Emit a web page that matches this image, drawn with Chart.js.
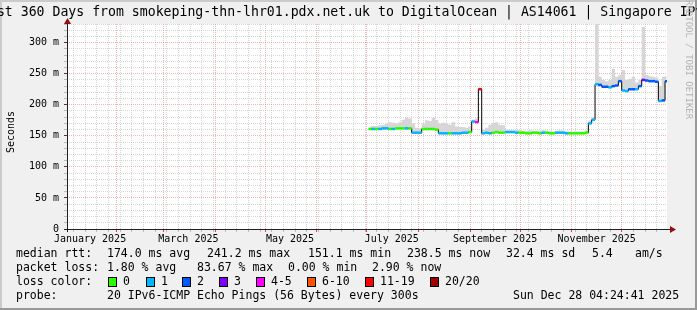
<!DOCTYPE html>
<html lang="en">
<head>
<meta charset="UTF-8">
<title>smokeping - last 360 days</title>
<script src="https://cdn.jsdelivr.net/npm/chart.js"></script>
<style>
  html, body { margin: 0; padding: 0; background: #f0f0f0; }
  canvas { display: block; }
</style>
</head>
<body>
<canvas id="smoke" width="697" height="310"></canvas>
<script>
// x values are days counted from 1 Jan 2025 (day 0)
const firstDay = 183;
const stepDays = 2;

// median rtt in ms, one value every two days
const median = [
  161, 161, 161, 161, 162, 162, 161, 161, 162, 162,
  162, 162, 162, 155, 155, 155, 161, 161, 161, 161,
  160, 154, 154, 154, 154, 154, 154, 154, 155, 155,
  156, 173, 172, 225, 154, 155, 154, 155, 156, 155,
  155, 156, 156, 156, 155, 155, 155, 154, 154, 155,
  155, 154, 155, 155, 154, 154, 155, 155, 155, 154,
  154, 154, 154, 154, 154, 155, 170, 176, 233, 232,
  229, 229, 228, 230, 231, 238, 223, 222, 225, 225,
  225, 230, 240, 239, 238, 238, 237, 206, 207, 238
];
// top of the smoke (slowest ping) in ms
const smokeMax = [
  165, 166, 166, 167, 168, 170, 172, 171, 170, 172,
  176, 179, 178, 170, 163, 162, 170, 175, 174, 179,
  176, 170, 171, 170, 168, 172, 165, 164, 164, 163,
  165, 176, 178, 228, 160, 163, 168, 171, 172, 168,
  167, 160, 159, 159, 160, 159, 158, 158, 159, 158,
  158, 158, 159, 158, 158, 157, 158, 159, 158, 157,
  157, 157, 157, 157, 157, 158, 175, 180, 330, 245,
  240, 238, 240, 258, 245, 248, 256, 240, 242, 245,
  236, 240, 325, 248, 246, 245, 244, 230, 245, 246
];
// packet loss class per sample (index into lossLabels)
const lossClass = [
  0, 1, 0, 1, 1, 1, 0, 1, 0, 0,
  0, 1, 0, 1, 1, 1, 0, 0, 0, 0,
  0, 1, 1, 1, 0, 1, 1, 1, 1, 1,
  0, 1, 4, 6, 1, 1, 1, 0, 0, 0,
  0, 1, 1, 1, 1, 0, 0, 0, 0, 0,
  0, 0, 1, 0, 0, 0, 1, 1, 1, 1,
  0, 0, 0, 0, 0, 0, 1, 1, 1, 2,
  2, 2, 1, 2, 2, 2, 1, 1, 2, 2,
  1, 2, 3, 2, 2, 2, 2, 1, 2, 2
];

const lossLabels = ['0', '1', '2', '3', '4-5', '6-10', '11-19', '20/20'];
const lossColors = ['#26ff00', '#00b8ff', '#0059ff', '#7e00ff', '#ff00ff', '#ff5500', '#ff0000', '#a10000'];

const monthLabels = ['January 2025', 'March 2025', 'May 2025', 'July 2025', 'September 2025', 'November 2025'];
const monthLabelDays = [15, 74, 135, 196, 258, 319];
const monthStartDays = [31, 59, 90, 120, 151, 181, 212, 243, 273, 304, 334];

const rangeStart = 1.18, rangeEnd = 361.18;

const titleText = 'Last 360 Days from smokeping-thn-lhr01.pdx.net.uk to DigitalOcean | AS14061 | Singapore IPv6';
const rttLine = ['174.0 ms avg', '241.2 ms max', '151.1 ms min', '238.5 ms now', '32.4 ms sd', '5.4', 'am/s'];
const lossLine = ['1.80 % avg', '83.67 % max', '0.00 % min', '2.90 % now'];
const probeText = '20 IPv6-ICMP Echo Pings (56 Bytes) every 300s';
const stampText = 'Sun Dec 28 04:24:41 2025';

const points = median.map((v, i) => ({ x: firstDay + i * stepDays, y: v }));
const smokePoints = smokeMax.map((v, i) => ({ x: firstDay + i * stepDays, y: v }));

// weekly minor grid (mondays) + month starts
const gridDays = [];
for (let d = 5; d < 362; d += 7) gridDays.push(d);
monthStartDays.forEach(d => { if (!gridDays.includes(d)) gridDays.push(d); });
gridDays.sort((a, b) => a - b);

const MONO = '"DejaVu Sans Mono", monospace';
const majorGrid = 'rgba(225, 90, 90, 0.45)';
const minorGrid = 'rgba(140, 140, 140, 0.35)';

const frame = {
  id: 'frame',
  beforeDraw(chart) {
    const { ctx, chartArea: a } = chart;
    ctx.save();
    ctx.fillStyle = '#f0f0f0';
    ctx.fillRect(0, 0, chart.width, chart.height);
    ctx.fillStyle = '#ffffff';
    ctx.fillRect(a.left, a.top, a.right - a.left, a.bottom - a.top);
    ctx.restore();
  },
  afterDraw(chart) {
    const { ctx, chartArea: a } = chart;
    const W = chart.width, H = chart.height;
    ctx.save();

    // 3d frame
    ctx.fillStyle = '#cbcbcb';
    ctx.fillRect(0, 0, W, 2);
    ctx.fillRect(0, 0, 2, H);
    ctx.fillStyle = '#999999';
    ctx.fillRect(0, H - 2, W, 2);
    ctx.fillRect(W - 2, 0, 2, H);

    // axes with arrows
    const x0 = a.left + 0.5, y0 = a.bottom + 0.5;
    ctx.strokeStyle = '#202020';
    ctx.lineWidth = 1;
    ctx.beginPath();
    ctx.moveTo(a.left - 3, y0); ctx.lineTo(a.right + 4, y0);
    ctx.moveTo(x0, a.bottom + 3); ctx.lineTo(x0, a.top - 1);
    ctx.stroke();
    ctx.fillStyle = '#8f1010';
    ctx.beginPath();
    ctx.moveTo(a.right + 9, y0); ctx.lineTo(a.right + 3, y0 - 3.5); ctx.lineTo(a.right + 3, y0 + 3.5);
    ctx.closePath(); ctx.fill();
    ctx.beginPath();
    ctx.moveTo(x0, a.top - 6); ctx.lineTo(x0 - 3.5, a.top); ctx.lineTo(x0 + 3.5, a.top);
    ctx.closePath(); ctx.fill();

    // title
    ctx.fillStyle = '#000';
    ctx.textBaseline = 'middle';
    ctx.textAlign = 'left';
    ctx.font = '13.2px ' + MONO;
    ctx.fillText(titleText, -19, 13);

    // y axis name
    ctx.save();
    ctx.translate(11, 132);
    ctx.rotate(-Math.PI / 2);
    ctx.textAlign = 'center';
    ctx.font = '10px ' + MONO;
    ctx.fillText('Seconds', 0, 0);
    ctx.restore();

    // watermark
    ctx.save();
    ctx.translate(688, 0);
    ctx.rotate(Math.PI / 2);
    ctx.font = '9px ' + MONO;
    ctx.fillStyle = '#b4b4b4';
    ctx.fillText('RRDTOOL / TOBI OETIKER', 0, 0);
    ctx.restore();

    // legend
    ctx.font = '11.5px ' + MONO;
    ctx.fillStyle = '#000';
    ctx.fillText('median rtt:', 16, 254);
    [107, 207, 308, 407, 506, 592, 635].forEach((x, i) => ctx.fillText(rttLine[i], x, 254));
    ctx.fillText('packet loss:', 16, 268);
    [107, 197, 288, 372].forEach((x, i) => ctx.fillText(lossLine[i], x, 268));
    ctx.fillText('loss color:', 16, 282);
    const boxX = [108, 146, 182, 219, 256, 307, 365, 430];
    lossLabels.forEach((lab, i) => {
      ctx.fillStyle = lossColors[i];
      ctx.fillRect(boxX[i], 277.5, 9, 9);
      ctx.strokeStyle = '#000';
      ctx.strokeRect(boxX[i] + 0.5, 277.5, 8, 9);
      ctx.fillStyle = '#000';
      ctx.fillText(lab, boxX[i] + 15, 282);
    });
    ctx.fillText('probe:', 16, 296);
    ctx.fillText(probeText, 107, 296);
    ctx.fillText(stampText, 513, 296);
    ctx.restore();
  }
};

new Chart(document.getElementById('smoke'), {
  type: 'line',
  data: {
    datasets: [
      {
        label: 'loss',
        data: points,
        showLine: false,
        pointStyle: 'line',
        pointRadius: 1.7,
        pointHoverRadius: 1.7,
        pointBorderWidth: 2.5,
        pointBorderColor: lossClass.map(c => lossColors[c])
      },
      {
        label: 'median',
        data: points,
        stepped: 'middle',
        borderColor: '#000000',
        borderWidth: 1,
        pointRadius: 0,
        fill: false
      },
      {
        label: 'smoke',
        data: smokePoints,
        stepped: 'middle',
        borderWidth: 0,
        borderColor: 'rgba(0,0,0,0)',
        backgroundColor: '#d6d6d6',
        pointRadius: 0,
        fill: 1
      }
    ]
  },
  options: {
    responsive: false,
    animation: false,
    events: [],
    layout: { padding: { top: 24, right: 30, left: 0, bottom: 0 } },
    plugins: { legend: { display: false }, tooltip: { enabled: false } },
    scales: {
      x: {
        type: 'linear',
        position: 'bottom',
        weight: 1,
        min: rangeStart,
        max: rangeEnd,
        grid: { display: false, drawTicks: false, tickLength: 0 },
        border: { display: false },
        afterBuildTicks: s => { s.ticks = monthLabelDays.map(v => ({ value: v })); },
        afterFit: s => { s.height = 78; },
        ticks: {
          autoSkip: false,
          maxRotation: 0,
          padding: 1,
          color: '#000',
          font: { family: MONO, size: 10 },
          callback: (v, i) => monthLabels[i]
        }
      },
      xg: {
        type: 'linear',
        position: 'bottom',
        weight: 0,
        min: rangeStart,
        max: rangeEnd,
        afterBuildTicks: s => { s.ticks = gridDays.map(v => ({ value: v })); },
        afterFit: s => { s.height = 3; },
        ticks: { display: false },
        border: { display: false, dash: [1, 1] },
        grid: {
          drawTicks: true,
          tickLength: 3,
          color: c => monthStartDays.includes(c.tick.value) ? majorGrid : minorGrid,
          tickColor: c => monthStartDays.includes(c.tick.value) ? '#e04040' : '#bbbbbb'
        }
      },
      y: {
        type: 'linear',
        min: 0,
        max: 330,
        afterFit: s => { s.width = 67; },
        border: { display: false, dash: [1, 1] },
        grid: {
          drawTicks: true,
          tickLength: 3,
          color: c => c.tick.value % 50 === 0 ? majorGrid : minorGrid,
          tickColor: c => c.tick.value % 50 === 0 ? '#404040' : '#bbbbbb'
        },
        ticks: {
          stepSize: 10,
          autoSkip: false,
          padding: 5,
          color: '#000',
          font: { family: MONO, size: 10 },
          callback: v => v % 50 !== 0 ? '' : (v === 0 ? '0' : v + ' m')
        }
      }
    }
  },
  plugins: [frame]
});
</script>
</body>
</html>
